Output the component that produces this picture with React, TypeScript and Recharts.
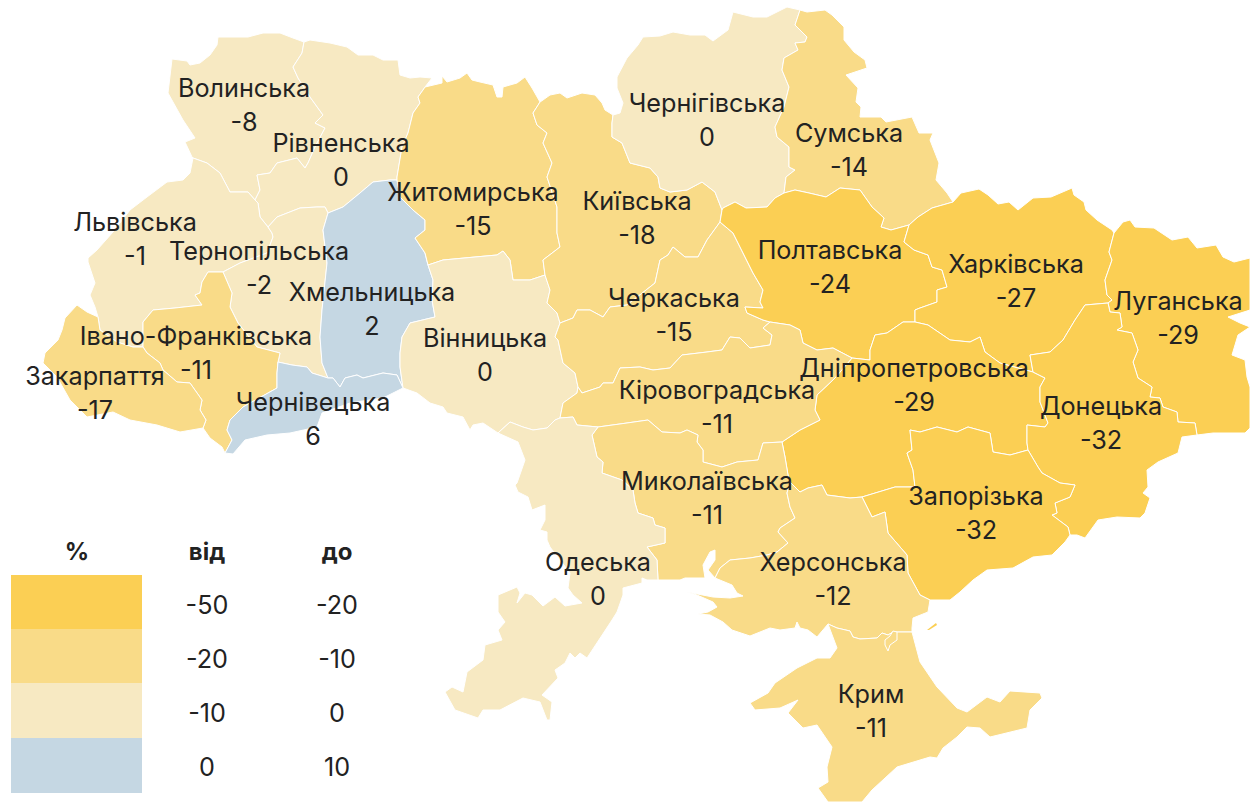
import React from 'react';
import { ScatterChart, Scatter, XAxis, YAxis, ReferenceArea } from 'recharts';

type P = [number, number];
const rev = (c: P[]): P[] => [...c].reverse();
const ring = (...chains: P[][]): { x: number; y: number }[] =>
  chains.flat().map(([x, y]) => ({ x, y }));

// ---- Border chains of the map, in map units ----
const volWest: P[] = [[193,158],[192,157],[185,142],[195,138],[183,120],[168,93],[172,59],[187,61],[190,65],[200,63],[210,55],[217,45],[218,37],[233,37],[248,37],[263,33],[280,33],[293,38],[304,42]];
const rivOut: P[] = [[304,42],[310,40],[330,43],[347,47],[358,55],[373,55],[383,60],[398,60],[400,75],[410,78],[420,77],[432,78],[425,87]];
const zhyOut: P[] = [[425,87],[442,83],[442,76],[447,82],[460,78],[467,73],[472,80],[480,82],[493,85],[497,97],[502,97],[503,87],[517,83],[525,77],[532,88],[540,102]];
const kyiOut: P[] = [[540,102],[543,100],[550,95],[560,93],[567,98],[582,93],[595,95],[602,103],[605,110],[613,115]];
const cheOut: P[] = [[613,115],[620,113],[623,103],[617,88],[617,77],[627,58],[638,45],[643,37],[660,36],[673,32],[690,35],[705,35],[713,41],[728,30],[733,12],[753,17],[767,17],[787,7],[800,10]];
const sumOut: P[] = [[800,10],[807,12],[825,10],[832,15],[844,27],[844,40],[854,52],[865,60],[867,68],[846,75],[858,88],[856,102],[861,107],[860,117],[881,117],[886,122],[912,117],[919,133],[933,133],[930,140],[939,163],[936,180],[947,193],[953,202]];
const kharOut: P[] = [[953,202],[961,193],[979,189],[988,195],[998,204],[1009,202],[1018,210],[1033,198],[1051,197],[1072,188],[1074,195],[1084,202],[1086,210],[1097,220],[1112,230],[1114,233]];
const luhOut: P[] = [[1114,233],[1123,222],[1130,220],[1135,227],[1154,228],[1172,240],[1188,237],[1197,248],[1216,245],[1223,257],[1234,262],[1250,258],[1250,310],[1228,317],[1240,323],[1250,327],[1238,335],[1232,355],[1245,360],[1247,377],[1250,387],[1250,428],[1245,433],[1213,433],[1197,435]];
const donOut: P[] = [[1197,435],[1182,437],[1178,453],[1158,462],[1147,470],[1148,487],[1143,493],[1150,498],[1145,513],[1140,518],[1117,517],[1098,520],[1085,538],[1077,535],[1070,535]];
const zapOut: P[] = [[1070,535],[1065,542],[1052,555],[1033,557],[1013,568],[987,570],[973,580],[960,592],[950,600],[937,600],[930,600]];
const kheOut: P[] = [[930,600],[928,612],[913,618],[912,628],[912,632]];
const kheCrimea: P[] = [[912,632],[902,632],[893,632],[888,635],[882,633],[877,638],[860,639],[853,637],[850,631],[837,628],[828,624]];
const kheCoast: P[] = [[828,624],[817,637],[808,630],[800,628],[797,622],[795,628],[780,630],[770,628],[750,636],[732,630],[723,622],[710,615],[698,614],[708,612],[717,607],[713,602],[697,595],[687,592],[713,597],[730,598],[743,596],[737,593],[732,585],[715,578]];
const crimeaOut: P[] = [[828,624],[837,648],[830,658],[817,658],[797,668],[775,683],[768,693],[750,703],[755,710],[780,708],[798,700],[788,713],[803,728],[817,725],[832,747],[827,767],[828,782],[818,788],[828,802],[862,802],[872,790],[897,767],[930,757],[937,758],[943,748],[957,737],[967,727],[980,728],[990,737],[1027,728],[1030,710],[1042,698],[1040,693],[1010,691],[1000,702],[987,697],[967,712],[957,708],[937,687],[920,662],[912,632]];
const mykCoast: P[] = [[715,578],[708,570],[715,560],[715,550],[710,552],[703,565],[705,578],[685,578],[680,580],[658,580]];
const odeCoast: P[] = [[658,580],[647,580],[642,578],[642,583],[623,588],[623,595],[617,612],[612,620],[587,658],[580,653],[575,658],[570,653],[565,663],[555,670],[558,678],[542,695],[552,702],[550,720],[547,720],[540,702],[523,698],[500,710],[483,710],[478,718],[455,710],[445,692],[452,687],[463,692],[467,672],[483,660],[485,645],[502,640],[498,630],[505,622],[498,612],[498,595],[517,587],[520,593],[517,603],[525,593],[532,595],[543,606],[555,597],[565,606],[582,603],[573,595],[568,588],[570,573],[550,547],[547,540],[547,532],[540,530],[545,520],[545,505],[532,510],[528,497],[518,492],[515,485],[517,483],[525,460],[518,442],[498,433]];
const vinOut: P[] = [[403,388],[417,393],[430,403],[443,407],[447,413],[463,417],[470,430],[473,425],[483,423],[498,433]];
const chvOut: P[] = [[225,453],[233,454],[245,440],[267,435],[290,433],[317,427],[322,413],[350,403],[383,398],[403,388]];
const ifOut: P[] = [[203,428],[210,438],[222,447],[225,453]];
const zakOut: P[] = [[98,317],[87,312],[77,305],[65,318],[62,330],[58,340],[45,353],[43,363],[57,377],[70,400],[87,417],[113,412],[130,420],[157,425],[180,432],[203,428]];
const lviOut: P[] = [[193,158],[190,173],[183,180],[167,182],[147,197],[130,210],[113,232],[97,250],[88,258],[88,262],[95,283],[90,295],[95,307],[98,317]];

const rivVol: P[] = [[304,42],[302,53],[293,67],[298,78],[310,97],[323,115],[315,123],[325,128],[315,147],[308,163],[305,168],[297,158],[277,163],[270,173],[257,175],[260,190],[255,200]];
const volLvi: P[] = [[255,200],[248,192],[230,192],[220,173],[207,163],[193,158]];
const rivLvi: P[] = [[255,200],[258,203],[260,217],[268,227]];
const rivTer: P[] = [[268,227],[277,217],[300,208],[317,207],[325,207],[328,213]];
const rivKhm: P[] = [[397,180],[390,180],[373,182],[360,193],[343,207],[328,213]];
const rivZhy: P[] = [[425,87],[423,90],[418,97],[420,103],[413,113],[408,133],[402,147],[397,177],[397,180]];
const zhyKhm: P[] = [[397,180],[400,197],[413,210],[425,220],[425,230],[415,238],[425,253],[428,265]];
const khmVin: P[] = [[428,265],[433,280],[432,300],[435,317],[410,323],[402,337],[400,353],[400,367],[403,388]];
const khmChv: P[] = [[328,378],[333,378],[340,387],[345,378],[357,375],[363,378],[383,373],[397,375],[403,388]];
const terKhm: P[] = [[328,213],[323,230],[327,263],[322,310],[320,337],[322,363],[328,378]];
const terChv: P[] = [[328,378],[312,373],[307,367],[292,365],[278,362]];
const terIf: P[] = [[278,362],[280,353],[257,347],[238,323],[230,307],[232,293],[223,272]];
const terLvi: P[] = [[268,227],[272,233],[273,237],[267,253],[240,263],[223,272]];
const lviIf: P[] = [[223,272],[208,272],[202,282],[200,293],[195,295],[202,305],[175,308],[153,310],[143,322],[143,347]];
const lviZak: P[] = [[143,347],[133,347],[117,342],[100,330],[98,317]];
const zakIf: P[] = [[143,347],[147,353],[160,363],[163,370],[177,382],[190,383],[202,400],[200,410],[206,420],[203,428]];
const ifChv: P[] = [[225,453],[232,440],[227,430],[230,420],[243,407],[277,388],[277,373],[278,362]];
const vinOde: P[] = [[498,433],[510,422],[523,427],[533,430],[547,428],[555,420],[560,418]];
const vinKir: P[] = [[560,418],[563,403],[577,393],[578,387]];
const vinChk: P[] = [[578,387],[575,373],[563,363],[558,340],[555,337],[560,323]];
const vinKyi: P[] = [[560,323],[557,313],[547,303],[550,290],[545,275]];
const vinZhy: P[] = [[545,275],[530,280],[513,280],[510,260],[503,251],[497,255],[475,257],[443,260],[428,265]];
const kyiZhy: P[] = [[540,102],[533,113],[537,125],[547,133],[543,143],[552,163],[547,177],[557,207],[557,233],[560,247],[543,260],[545,275]];
const kyiChe: P[] = [[613,115],[612,123],[612,137],[622,143],[630,163],[650,168],[658,177],[660,188],[670,192],[687,190],[702,182],[715,192],[722,210]];
const kyiPol: P[] = [[722,210],[720,222]];
const kyiChk: P[] = [[720,222],[707,240],[698,257],[685,257],[673,247],[668,255],[660,260],[655,283],[627,305],[610,307],[603,317],[590,310],[577,310],[573,318],[560,323]];
const polChk: P[] = [[720,222],[733,233],[743,253],[753,273],[763,290],[760,302],[763,308],[745,307],[747,313],[763,320],[770,322]];
const chkKir: P[] = [[770,322],[763,328],[772,335],[770,345],[750,348],[740,338],[730,337],[722,350],[707,352],[682,355],[670,368],[653,370],[640,367],[620,368],[613,383],[603,383],[600,387],[582,393],[578,387]];
const polKir: P[] = [[770,322],[790,325],[800,330],[803,343],[817,350],[833,348],[852,358]];
const polDni: P[] = [[852,358],[870,360],[870,350],[875,335],[887,333],[903,322],[915,322]];
const chePol: P[] = [[722,210],[723,208],[735,202],[746,208],[767,207],[775,198],[784,193]];
const cheSum: P[] = [[800,10],[795,25],[807,37],[805,42],[795,43],[798,50],[784,58],[782,70],[789,87],[784,107],[775,127],[777,137],[789,147],[789,167],[795,170],[786,177],[784,193]];
const sumPol: P[] = [[784,193],[795,190],[809,193],[826,197],[840,188],[860,190],[872,207],[884,218],[881,227],[891,230],[909,225]];
const sumKha: P[] = [[909,225],[918,217],[932,208],[953,202]];
const polKha: P[] = [[909,225],[904,242],[914,250],[928,255],[932,267],[942,270],[947,287],[937,290],[937,302],[920,308],[915,310],[915,322]];
const khaLuh: P[] = [[1114,233],[1109,252],[1112,260],[1105,280],[1107,295],[1112,300],[1108,303]];
const khaDon: P[] = [[1108,303],[1085,305],[1075,320],[1063,340],[1050,352],[1030,355],[1033,372]];
const khaDni: P[] = [[915,322],[928,325],[950,340],[970,342],[980,337],[985,352],[1000,363],[1018,368],[1033,372]];
const luhDon: P[] = [[1108,303],[1110,312],[1120,313],[1122,327],[1117,330],[1132,333],[1138,350],[1133,362],[1138,378],[1152,387],[1150,397],[1160,398],[1163,407],[1177,412],[1178,422],[1195,423],[1197,435]];
const dniDon: P[] = [[1033,372],[1045,378],[1040,387],[1040,402],[1048,423],[1045,427],[1027,425],[1027,443],[1028,450]];
const zapDon: P[] = [[1028,450],[1038,467],[1042,473],[1060,483],[1075,485],[1070,497],[1055,503],[1057,513],[1052,515],[1068,527],[1070,535]];
const dniZap: P[] = [[1028,450],[1010,455],[993,452],[990,433],[968,427],[957,432],[937,427],[920,432],[910,430],[912,450],[907,453],[913,470],[915,487],[895,487],[862,497]];
const kheZap: P[] = [[862,497],[872,517],[885,512],[888,533],[907,555],[908,573],[920,595],[930,600]];
const dniKhe: P[] = [[862,497],[850,498],[827,495],[822,485],[808,488],[800,492],[795,487],[790,482]];
const mykKhe: P[] = [[790,482],[787,493],[790,507],[795,518],[780,528],[778,532],[788,543],[777,552],[767,555],[750,558],[730,560],[720,568],[715,578]];
const mykDni: P[] = [[782,442],[785,457],[788,475],[790,482]];
const kirDni: P[] = [[782,442],[800,430],[820,420],[815,410],[817,395],[835,378],[852,358]];
const kirMyk: P[] = [[598,427],[627,423],[648,420],[662,432],[680,433],[687,430],[698,435],[697,442],[703,450],[703,462],[722,467],[737,462],[758,460],[763,443],[782,442]];
const odeKir: P[] = [[560,418],[573,417],[577,425],[598,427]];
const mykOde: P[] = [[598,427],[592,435],[597,457],[603,462],[602,473],[622,480],[633,490],[635,503],[638,513],[653,518],[655,525],[665,528],[665,543],[647,547],[657,560],[658,580]];
const sivash: P[] = [[885,640],[890,636],[893,631],[897,632],[897,640],[890,645],[888,651],[885,645],[885,640]];
const arabatSpeck: P[] = [[927,630],[936,623],[937,625],[929,630]];

const regions = [
  { name: 'Волинська', value: -8, outline: ring(volWest, rivVol, volLvi) },
  { name: 'Рівненська', value: 0, outline: ring(rivOut, rivZhy, rivKhm, rev(rivTer), rev(rivLvi), rev(rivVol)) },
  { name: 'Львівська', value: -1, outline: ring(lviOut, rev(lviZak), rev(lviIf), rev(terLvi), rev(rivLvi), volLvi) },
  { name: 'Тернопільська', value: -2, outline: ring(rivTer, terKhm, terChv, terIf, rev(terLvi)) },
  { name: 'Хмельницька', value: 2, outline: ring(zhyKhm, khmVin, rev(khmChv), rev(terKhm), rev(rivKhm)) },
  { name: 'Житомирська', value: -15, outline: ring(zhyOut, kyiZhy, vinZhy, rev(zhyKhm), rev(rivZhy)) },
  { name: 'Вінницька', value: 0, outline: ring(khmVin, vinOut, vinOde, vinKir, vinChk, vinKyi, vinZhy) },
  { name: 'Київська', value: -18, outline: ring(kyiOut, kyiChe, kyiPol, kyiChk, vinKyi, rev(kyiZhy)) },
  { name: 'Черкаська', value: -15, outline: ring(polChk, chkKir, vinChk, rev(kyiChk)) },
  { name: 'Чернігівська', value: 0, outline: ring(cheOut, cheSum, rev(chePol), rev(kyiChe)) },
  { name: 'Сумська', value: -14, outline: ring(sumOut, rev(sumKha), rev(sumPol), rev(cheSum)) },
  { name: 'Полтавська', value: -24, outline: ring(chePol, sumPol, polKha, rev(polDni), rev(polKir), rev(polChk), rev(kyiPol)) },
  { name: 'Харківська', value: -27, outline: ring(kharOut, khaLuh, khaDon, rev(khaDni), rev(polKha), sumKha) },
  { name: 'Луганська', value: -29, outline: ring(luhOut, rev(luhDon), rev(khaLuh)) },
  { name: 'Дніпропетровська', value: -29, outline: ring(polDni, khaDni, dniDon, dniZap, dniKhe, rev(mykDni), kirDni) },
  { name: 'Донецька', value: -32, outline: ring(luhDon, donOut, rev(zapDon), rev(dniDon), rev(khaDon)) },
  { name: 'Запорізька', value: -32, outline: ring(rev(dniZap), zapDon, zapOut, rev(kheZap)) },
  { name: 'Кіровоградська', value: -11, outline: ring(odeKir, kirMyk, kirDni, rev(polKir), chkKir, rev(vinKir)) },
  { name: 'Миколаївська', value: -11, outline: ring(kirMyk, mykDni, mykKhe, mykCoast, rev(mykOde)) },
  { name: 'Херсонська', value: -12, outline: ring(kheOut, kheCrimea, kheCoast, rev(mykKhe), rev(dniKhe), kheZap) },
  { name: 'Одеська', value: 0, outline: ring(vinOde, odeKir, mykOde, odeCoast) },
  { name: 'Крим', value: -11, outline: ring(crimeaOut, kheCrimea) },
  { name: 'Івано-Франківська', value: -11, outline: ring(lviIf, zakIf, ifOut, ifChv, terIf) },
  { name: 'Закарпаття', value: -17, outline: ring(lviZak, zakOut, rev(zakIf)) },
  { name: 'Чернівецька', value: 6, outline: ring(chvOut, rev(khmChv), terChv, rev(ifChv)) },
];

// ---- Labels: anchor of the name; the number sits under it ----
const labelAnchors: { name: string; x: number; y: number }[] = [
  { name: 'Волинська', x: 244, y: 88 }, { name: 'Рівненська', x: 341, y: 143 },
  { name: 'Львівська', x: 135, y: 222 }, { name: 'Тернопільська', x: 259, y: 251 },
  { name: 'Хмельницька', x: 372, y: 292 }, { name: 'Житомирська', x: 473, y: 192 },
  { name: 'Вінницька', x: 485, y: 338 }, { name: 'Київська', x: 637, y: 201 },
  { name: 'Черкаська', x: 674, y: 298 }, { name: 'Чернігівська', x: 707, y: 103 },
  { name: 'Сумська', x: 849, y: 133 }, { name: 'Полтавська', x: 830, y: 250 },
  { name: 'Харківська', x: 1016, y: 264 }, { name: 'Луганська', x: 1178, y: 301 },
  { name: 'Дніпропетровська', x: 914, y: 368 }, { name: 'Донецька', x: 1101, y: 406 },
  { name: 'Запорізька', x: 976, y: 496 }, { name: 'Кіровоградська', x: 717, y: 390 },
  { name: 'Миколаївська', x: 707, y: 481 }, { name: 'Херсонська', x: 833, y: 562 },
  { name: 'Одеська', x: 598, y: 562 }, { name: 'Крим', x: 871, y: 694 },
  { name: 'Івано-Франківська', x: 196, y: 336 }, { name: 'Закарпаття', x: 95, y: 376 },
  { name: 'Чернівецька', x: 313, y: 402 },
];

// ---- Legend ----
const binFrom = [-50, -20, -10, 0];
const binTo = [-20, -10, 0, 10];
const binColors = ['#FBCF54', '#F9DB88', '#F7E9C2', '#C5D7E3'];
const legendEdges = [575, 629, 683, 738, 793];
const legendRowY = [605, 659, 713, 767];
const legendHeaders = [
  { x: 77, y: 551, text: '%' },
  { x: 207, y: 551, text: 'від' },
  { x: 337, y: 551, text: 'до' },
];

const binFill = (v: number) => {
  if (v === 0) return binColors[2];
  const i = binTo.findIndex((t, k) => v >= binFrom[k] && v < t);
  return binColors[i];
};

const FONT = 'Inter, sans-serif';
const INK = '#222222';
const SIZE = 25.2;

const nameLabels = labelAnchors.map((a) => ({ x: a.x, y: a.y, text: a.name }));
const valueLabels = labelAnchors.map((a) => ({
  x: a.x,
  y: a.y + 34,
  text: String(regions.find((r) => r.name === a.name)!.value),
}));
const legendText = legendRowY.flatMap((y, i) => [
  { x: 207, y, text: String(binFrom[i]) },
  { x: 337, y, text: String(binTo[i]) },
]);

const TextMark = (props: any) => (
  <text x={props.cx} y={props.cy} textAnchor="middle" dominantBaseline="central" fontFamily={FONT} fontSize={SIZE} fill={INK}>
    {props.payload.text}
  </text>
);
const BoldMark = (props: any) => (
  <text x={props.cx} y={props.cy} textAnchor="middle" dominantBaseline="central" fontFamily={FONT} fontSize={24} fontWeight={700} fill={INK}>
    {props.payload.text}
  </text>
);
const NoMark = () => null;

export default function App() {
  return (
    <div style={{ position: 'absolute', left: 0, top: 0, width: 1250, height: 802, background: '#fff' }}>
      <ScatterChart width={1250} height={802} margin={{ top: 0, right: 0, bottom: 0, left: 0 }}>
        <XAxis type="number" dataKey="x" domain={[0, 1250]} hide allowDataOverflow />
        <YAxis type="number" dataKey="y" domain={[0, 802]} reversed hide allowDataOverflow />
        {binColors.map((c, i) => (
          <ReferenceArea key={c} x1={11} x2={142} y1={legendEdges[i]} y2={legendEdges[i + 1]} fill={c} fillOpacity={1} stroke="none" ifOverflow="visible" />
        ))}
        {regions.map((r) => (
          <Scatter
            key={r.name}
            name={r.name}
            data={r.outline}
            isAnimationActive={false}
            shape={NoMark}
            line={{ fill: binFill(r.value), stroke: '#ffffff', strokeWidth: 1, strokeLinejoin: 'round' }}
            lineType="joint"
          />
        ))}
        <Scatter name="sivash" data={ring(sivash)} isAnimationActive={false} shape={NoMark} line={{ fill: binColors[1], stroke: '#ffffff', strokeWidth: 1 }} lineType="joint" />
        <Scatter name="arabat" data={ring(arabatSpeck)} isAnimationActive={false} shape={NoMark} line={{ fill: binColors[0], stroke: 'none' }} lineType="joint" />
        <Scatter name="names" data={nameLabels} isAnimationActive={false} shape={TextMark} />
        <Scatter name="values" data={valueLabels} isAnimationActive={false} shape={TextMark} />
        <Scatter name="legend" data={legendText} isAnimationActive={false} shape={TextMark} />
        <Scatter name="headers" data={legendHeaders} isAnimationActive={false} shape={BoldMark} />
      </ScatterChart>
    </div>
  );
}
